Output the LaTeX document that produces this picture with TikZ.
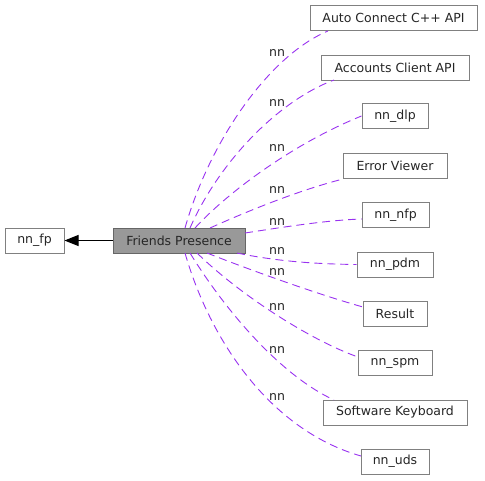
\documentclass[tikz,border=0pt]{standalone}
\usepackage{fontspec}
\setmainfont{DejaVu Sans}
\usetikzlibrary{arrows.meta}
\definecolor{edgepurple}{RGB}{153,50,240}
\definecolor{boxline}{RGB}{128,128,128}
\definecolor{fpfill}{RGB}{153,153,153}
\definecolor{fpline}{RGB}{102,102,102}
\tikzset{
  box/.style={draw=boxline, line width=1pt, fill=white, inner sep=0pt, minimum height=25pt, font=\fontsize{12.5}{14}\selectfont, text=black!85},
  curbox/.style={box, fill=fpfill, draw=fpline},
  dep/.style={draw=edgepurple, line width=0.9pt, dash pattern=on 8pt off 5pt},
  lbl/.style={font=\fontsize{12.5}{14}\selectfont, inner sep=0pt, text=black!85},
}
\begin{document}
\begin{tikzpicture}[x=1pt,y=-1pt]
\useasboundingbox (0,0) rectangle (485,480);
\node[box, minimum width=59pt] (fp) at (34.5,240.5) {nn\_fp};
\node[curbox, minimum width=132pt] (pres) at (179,240.5) {Friends Presence};
\node[box, minimum width=167pt] (auto) at (393.5,18) {Auto Connect C++ API};
\node[box, minimum width=148pt] (acc) at (395,67.5) {Accounts Client API};
\node[box, minimum width=66pt] (dlp) at (395,116) {nn\_dlp};
\node[box, minimum width=104pt] (err) at (395,166) {Error Viewer};
\node[box, minimum width=67pt] (nfp) at (395.5,215) {nn\_nfp};
\node[box, minimum width=76pt] (pdm) at (395,264.5) {nn\_pdm};
\node[box, minimum width=64pt] (res) at (395,314) {Result};
\node[box, minimum width=74pt] (spm) at (395,363) {nn\_spm};
\node[box, minimum width=144pt] (kbd) at (395,412.5) {Software Keyboard};
\node[box, minimum width=68pt] (uds) at (395,461.5) {nn\_uds};

\draw[line width=1pt, -{Triangle[length=14pt,width=11pt]}] (pres.west) -- (fp.east);

\draw[dep] (185,228) .. controls (210,140) and (270,55) .. (328,31);
\draw[dep] (190,228) .. controls (220,160) and (280,100) .. (334,80);
\draw[dep] (195,228) .. controls (225,195) and (290,145) .. (dlp.west);
\draw[dep] (210,228) .. controls (250,210) and (300,190) .. (343,179);
\draw[dep] (245,233) .. controls (290,226) and (330,220) .. (362,219);
\draw[dep] (237,253) .. controls (280,262) and (320,264) .. (pdm.west);
\draw[dep] (207,253) .. controls (250,270) and (320,295) .. (363,307);
\draw[dep] (197,253) .. controls (240,295) and (310,340) .. (358,357);
\draw[dep] (190,253) .. controls (225,310) and (280,375) .. (334,400);
\draw[dep] (185,253) .. controls (210,340) and (270,430) .. (361,456);

\node[lbl] (l1) at (277,53) {nn};
\node[lbl] (l2) at (277,103) {nn};
\node[lbl] (l3) at (277,148) {nn};
\node[lbl] (l4) at (277,190) {nn};
\node[lbl] (l5) at (277,222) {nn};
\node[lbl] (l6) at (277,251) {nn};
\node[lbl] (l7) at (277,272) {nn};
\node[lbl] (l8) at (277,307) {nn};
\node[lbl] (l9) at (277,350) {nn};
\node[lbl] (l10) at (277,397) {nn};
\end{tikzpicture}
\end{document}
